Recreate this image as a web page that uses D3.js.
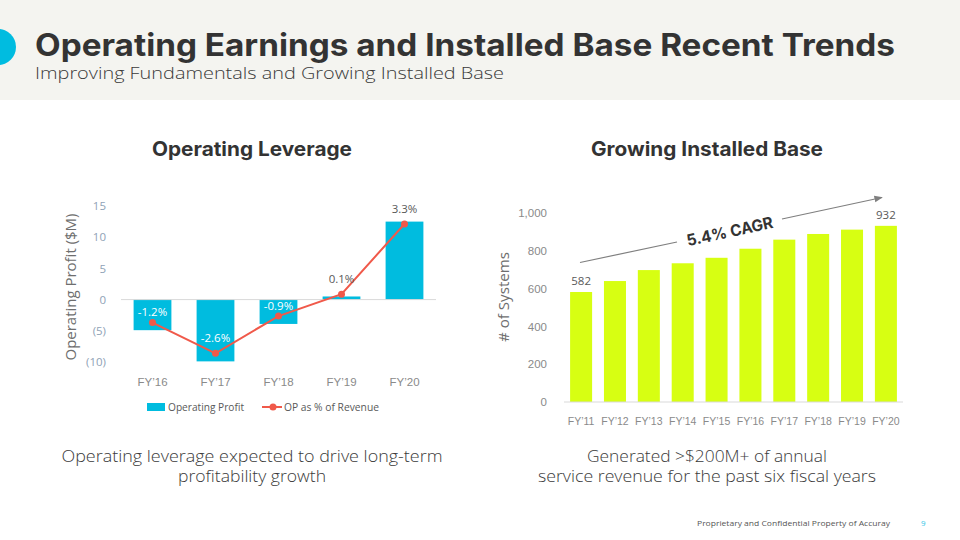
<!DOCTYPE html>
<html><head><meta charset="utf-8">
<script src="https://cdn.jsdelivr.net/npm/d3@7/dist/d3.min.js"></script>
<style>
html,body{margin:0;padding:0;background:#fff;}
svg{display:block;font-family:"Open Sans","Noto Sans",sans-serif;}
</style></head>
<body>
<svg id="c" width="960" height="540"></svg>
<script>
// ---- data ----
const opYears = ["FY\u201916","FY\u201917","FY\u201918","FY\u201919","FY\u201920"];
const opProfit = [-4.9, -9.9, -3.9, 0.5, 12.5];
const opPct = [-1.2, -2.6, -0.9, 0.1, 3.3];
const opPctLabels = ["-1.2%","-2.6%","-0.9%","0.1%","3.3%"];
const opTicks = [15, 10, 5, 0, -5, -10];

const ibYears = ["FY\u201911","FY\u201912","FY\u201913","FY\u201914","FY\u201915","FY\u201916","FY\u201917","FY\u201918","FY\u201919","FY\u201920"];
const ibSystems = [582, 640, 698, 734, 763, 811, 859, 889, 912, 932];
const ibTicks = [0, 200, 400, 600, 800, 1000];

const svg = d3.select("#c");
const dark = "#333333", gray = "#6e6e6e", tickGray = "#8a8a8a";
const cyan = "#00BCDF", coral = "#F0594A", lime = "#D7FF12";

// header
svg.append("rect").attr("x",0).attr("y",0).attr("width",960).attr("height",100).attr("fill","#F4F4F0");
svg.append("circle").attr("cx",-2).attr("cy",47).attr("r",18).attr("fill","#00BCE0");
svg.append("text").attr("x",35).attr("y",56).attr("font-size",31).attr("font-weight",700)
  .attr("fill","#333").attr("font-family","Inter, 'Open Sans', sans-serif")
  .attr("textLength",860).attr("lengthAdjust","spacingAndGlyphs")
  .text("Operating Earnings and Installed Base Recent Trends");
svg.append("text").attr("x",35).attr("y",79).attr("font-size",17).attr("font-weight",300)
  .attr("fill","#3a3a3a").attr("textLength",469).attr("lengthAdjust","spacingAndGlyphs")
  .text("Improving Fundamentals and Growing Installed Base");

// section titles
svg.append("text").attr("x",252).attr("y",156).attr("text-anchor","middle").attr("font-size",20).attr("font-weight",700).attr("fill",dark).attr("font-family","Inter, sans-serif")
  .attr("textLength",200).attr("lengthAdjust","spacingAndGlyphs").text("Operating Leverage");
svg.append("text").attr("x",707).attr("y",156).attr("text-anchor","middle").attr("font-size",20).attr("font-weight",700).attr("fill",dark).attr("font-family","Inter, sans-serif")
  .attr("textLength",232).attr("lengthAdjust","spacingAndGlyphs").text("Growing Installed Base");

// ---- Left chart ----
const x1 = d3.scaleBand().domain(opYears).range([121,436]).paddingInner(0.4).paddingOuter(0.2);
const y1 = d3.scaleLinear().domain([-10,15]).range([362,206]);
const y2 = d3.scaleLinear().domain([-2.6,3.3]).range([353.3,224]);

const gL = svg.append("g");
const yAx1 = d3.axisLeft(y1).tickValues(opTicks).tickSize(0).tickPadding(0)
  .tickFormat(d => d < 0 ? "(" + Math.abs(d) + ")" : d);
gL.append("g").attr("transform","translate(106,0)").call(yAx1)
  .call(g => g.select(".domain").remove())
  .call(g => g.selectAll("text").attr("fill","#8FA2B6").attr("font-size",11.5).attr("font-family","'Open Sans', sans-serif"));

gL.selectAll("rect.bar").data(opProfit).join("rect").attr("class","bar")
  .attr("x",(d,i)=>x1(opYears[i])).attr("width",x1.bandwidth())
  .attr("y",d=>y1(Math.max(0,d))).attr("height",d=>Math.abs(y1(d)-y1(0)))
  .attr("fill",cyan);

gL.append("line").attr("x1",121).attr("x2",436).attr("y1",y1(0)).attr("y2",y1(0)).attr("stroke","#d9d9d9").attr("stroke-width",1);

const xAx1 = d3.axisBottom(x1).tickSize(0).tickPadding(0);
gL.append("g").attr("transform","translate(0,386)").call(xAx1)
  .call(g => g.select(".domain").remove())
  .call(g => g.selectAll("text").attr("fill",tickGray).attr("font-size",11.5).attr("dy","0"));

const line = d3.line().x((d,i)=>x1(opYears[i])+x1.bandwidth()/2).y(d=>y2(d));
gL.append("path").datum(opPct).attr("d",line).attr("fill","none").attr("stroke",coral).attr("stroke-width",2);
gL.selectAll("circle.pt").data(opPct).join("circle").attr("class","pt")
  .attr("cx",(d,i)=>x1(opYears[i])+x1.bandwidth()/2).attr("cy",d=>y2(d)).attr("r",3.5).attr("fill",coral);

// labels: inside bars (white) for negatives, gray above for positives
const labOffsets = [-11, -15, -10, -15, -15];
gL.selectAll("text.pl").data(opPct).join("text").attr("class","pl")
  .attr("x",(d,i)=>x1(opYears[i])+x1.bandwidth()/2)
  .attr("y",(d,i)=>y2(d)+labOffsets[i]+4)
  .attr("text-anchor","middle").attr("font-size",11.5)
  .attr("fill",(d,i)=>opProfit[i] < 0 ? "#ffffff" : "#595959")
  .text((d,i)=>opPctLabels[i]);

// y title
svg.append("text").attr("transform","translate(76,287) rotate(-90)").attr("text-anchor","middle")
  .attr("font-size",14.5).attr("fill",gray).attr("textLength",147).attr("lengthAdjust","spacingAndGlyphs").text("Operating Profit ($M)");

// legend
svg.append("rect").attr("x",147).attr("y",403).attr("width",18).attr("height",8).attr("fill",cyan);
svg.append("text").attr("x",168).attr("y",411).attr("font-size",10).attr("fill","#595959")
  .attr("textLength",76).attr("lengthAdjust","spacingAndGlyphs").text("Operating Profit");
svg.append("line").attr("x1",262).attr("x2",282).attr("y1",407).attr("y2",407).attr("stroke",coral).attr("stroke-width",2);
svg.append("circle").attr("cx",273).attr("cy",407).attr("r",3.5).attr("fill",coral);
svg.append("text").attr("x",284).attr("y",411).attr("font-size",10).attr("fill","#595959")
  .attr("textLength",95).attr("lengthAdjust","spacingAndGlyphs").text("OP as % of Revenue");

// ---- Right chart ----
const x3 = d3.scaleBand().domain(ibYears).range([564,903]).paddingInner(0.35).paddingOuter(0.18);
const y3 = d3.scaleLinear().domain([0,1000]).range([402,213]);

const gR = svg.append("g");
gR.append("g").attr("transform","translate(547,0)")
  .call(d3.axisLeft(y3).tickValues(ibTicks).tickSize(0).tickPadding(0).tickFormat(d3.format(",")))
  .call(g => g.select(".domain").remove())
  .call(g => g.selectAll("text").attr("fill",tickGray).attr("font-size",11.5));

gR.selectAll("rect.bar").data(ibSystems).join("rect").attr("class","bar")
  .attr("x",(d,i)=>x3(ibYears[i])).attr("width",x3.bandwidth())
  .attr("y",d=>y3(d)).attr("height",d=>y3(0)-y3(d)).attr("fill",lime);

gR.append("line").attr("x1",564).attr("x2",903).attr("y1",y3(0)).attr("y2",y3(0)).attr("stroke","#d9d9d9");

gR.append("g").attr("transform","translate(0,425)")
  .call(d3.axisBottom(x3).tickSize(0).tickPadding(0))
  .call(g => g.select(".domain").remove())
  .call(g => g.selectAll("text").attr("fill",tickGray).attr("font-size",10.5).attr("dy","0"));

// first & last labels
[0, ibSystems.length-1].forEach(i => {
  gR.append("text").attr("x",x3(ibYears[i])+x3.bandwidth()/2).attr("y",y3(ibSystems[i])-7)
    .attr("text-anchor","middle").attr("font-size",11.5).attr("fill","#595959").text(ibSystems[i]);
});

svg.append("text").attr("transform","translate(509,297) rotate(-90)").attr("text-anchor","middle")
  .attr("font-size",14.5).attr("fill",gray).attr("textLength",90).attr("lengthAdjust","spacingAndGlyphs").text("# of Systems");

// CAGR arrow
const defs = svg.append("defs");
defs.append("marker").attr("id","ah").attr("viewBox","0 0 10 10").attr("refX",9).attr("refY",5)
  .attr("markerWidth",7).attr("markerHeight",7).attr("orient","auto")
  .append("path").attr("d","M0,1 L10,5 L0,9 Z").attr("fill","#7f7f7f");
svg.append("line").attr("x1",580).attr("y1",262.5).attr("x2",677).attr("y2",242).attr("stroke","#7f7f7f").attr("stroke-width",1.2);
svg.append("line").attr("x1",782).attr("y1",219).attr("x2",882).attr("y2",197.5).attr("stroke","#7f7f7f").attr("stroke-width",1.2).attr("marker-end","url(#ah)");
svg.append("text").attr("transform","translate(731,237) rotate(-12.3)").attr("text-anchor","middle")
  .attr("font-size",16).attr("font-weight",700).attr("fill","#333").attr("font-family","Inter, sans-serif")
  .attr("textLength",88).attr("lengthAdjust","spacingAndGlyphs").text("5.4% CAGR");

// captions
const cap = (x, y, t, w) => svg.append("text").attr("x",x).attr("y",y).attr("text-anchor","middle").attr("font-size",16).attr("font-weight",300).attr("fill","#3a3a3a")
  .attr("textLength",w).attr("lengthAdjust","spacingAndGlyphs").text(t);
cap(252,462,"Operating leverage expected to drive long-term",381);
cap(252,482,"profitability growth",148);
cap(707,462,"Generated >$200M+ of annual",240);
cap(707,482,"service revenue for the past six fiscal years",338);

// footer
svg.append("text").attr("x",697).attr("y",526).attr("font-size",8).attr("fill","#555")
  .attr("textLength",193).attr("lengthAdjust","spacingAndGlyphs").text("Proprietary and Confidential Property of Accuray");
svg.append("text").attr("x",921).attr("y",526).attr("font-size",8).attr("fill","#2EC4E6").text("9");
</script>
</body></html>
